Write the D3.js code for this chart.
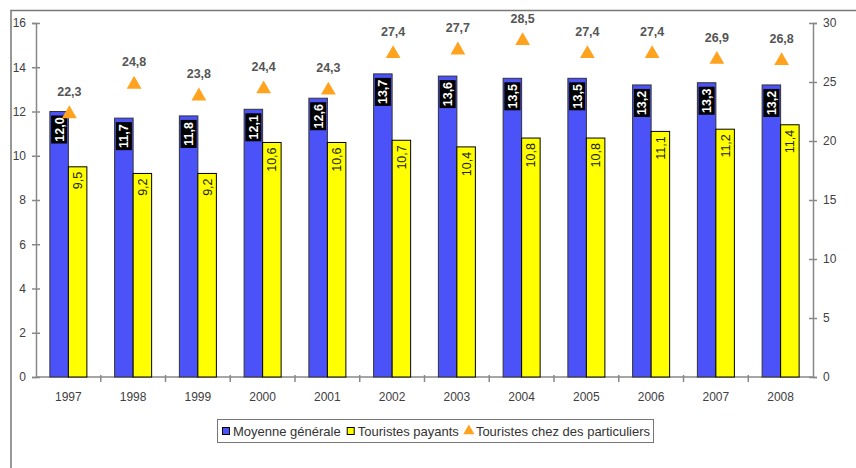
<!DOCTYPE html>
<html>
<head>
<meta charset="utf-8">
<script src="https://cdn.jsdelivr.net/npm/d3@7"></script>
<style>
  body { margin: 0; background: #fff; }
  svg { display: block; font-family: "Liberation Sans", Arial, sans-serif; }
</style>
</head>
<body>
<svg width="856" height="468"></svg>
<script>
// data
const years = ["1997","1998","1999","2000","2001","2002","2003","2004","2005","2006","2007","2008"];
const moyenne = [12.0, 11.7, 11.8, 12.1, 12.6, 13.7, 13.6, 13.5, 13.5, 13.2, 13.3, 13.2];
const payants = [9.5, 9.2, 9.2, 10.6, 10.6, 10.7, 10.4, 10.8, 10.8, 11.1, 11.2, 11.4];
const particuliers = [22.3, 24.8, 23.8, 24.4, 24.3, 27.4, 27.7, 28.5, 27.4, 27.4, 26.9, 26.8];
const leftTicks = [0, 2, 4, 6, 8, 10, 12, 14, 16];
const rightTicks = [0, 5, 10, 15, 20, 25, 30];

const fmt = v => v.toFixed(1).replace(".", ",");

const svg = d3.select("svg");
const pL = 36, pR = 813, pT = 23, pB = 377;

// outer frame
svg.append("path")
  .attr("d", "M11,470 V10.5 H858")
  .attr("fill", "none")
  .attr("stroke", "#777")
  .attr("stroke-width", 1.5);

const x = d3.scaleBand().domain(years).range([pL, pR]);
const yL = d3.scaleLinear().domain([0, 16]).range([pB, pT]);
const yR = d3.scaleLinear().domain([0, 30]).range([pB, pT]);

const bw = 18.5;
const off = x.bandwidth() / 2 - bw;

// axes
const axisCol = "#888", textCol = "#404040";

const gl = svg.append("g").attr("transform", `translate(${pL},0)`)
  .call(d3.axisLeft(yL).tickValues(leftTicks).tickSize(4).tickPadding(6));
gl.selectAll(".tick line").attr("x2", 4).attr("x1", -4);
const gr = svg.append("g").attr("transform", `translate(${pR},0)`)
  .call(d3.axisRight(yR).tickValues(rightTicks).tickSize(4).tickPadding(6));
gr.selectAll(".tick line").attr("x1", -4).attr("x2", 4);

[gl, gr].forEach(g => {
  g.select(".domain").attr("stroke", axisCol).attr("stroke-width", 1.5);
  g.selectAll(".tick line").attr("stroke", axisCol).attr("stroke-width", 1.5);
  g.selectAll(".tick text").attr("fill", textCol).attr("font-size", 12)
    .attr("font-family", "Liberation Sans, Arial, sans-serif");
});

// x axis
const gx = svg.append("g");
gx.append("line").attr("x1", pL).attr("x2", pR).attr("y1", pB).attr("y2", pB)
  .attr("stroke", axisCol).attr("stroke-width", 1.5);
gx.selectAll(".xt").data(years.slice(1)).enter().append("line")
  .attr("x1", d => x(d)).attr("x2", d => x(d))
  .attr("y1", pB - 2).attr("y2", pB + 5)
  .attr("stroke", axisCol).attr("stroke-width", 1.5);
gx.selectAll(".xl").data(years).enter().append("text")
  .attr("x", d => x(d) + x.bandwidth() / 2)
  .attr("y", pB + 24)
  .attr("text-anchor", "middle")
  .attr("font-size", 12)
  .attr("fill", textCol)
  .text(d => d);

// bars
const gBlue = svg.append("g");
gBlue.selectAll("rect").data(moyenne).enter().append("rect")
  .attr("x", (d, i) => x(years[i]) + off)
  .attr("y", d => yL(d))
  .attr("width", bw)
  .attr("height", d => pB - yL(d))
  .attr("fill", "#4a52f8")
  .attr("stroke", "#333")
  .attr("stroke-width", 1);

const gYel = svg.append("g");
gYel.selectAll("rect").data(payants).enter().append("rect")
  .attr("x", (d, i) => x(years[i]) + off + bw)
  .attr("y", d => yL(d))
  .attr("width", bw)
  .attr("height", d => pB - yL(d))
  .attr("fill", "#ffff00")
  .attr("stroke", "#000")
  .attr("stroke-width", 1);

// blue labels: white on black, rotated
moyenne.forEach((d, i) => {
  const cx = x(years[i]) + off + bw / 2;
  const ty = yL(d) + 4;
  const g = svg.append("g");
  g.append("rect")
    .attr("x", cx - 8).attr("y", ty)
    .attr("width", 16).attr("height", 28)
    .attr("fill", "#000");
  g.append("text")
    .attr("transform", `translate(${cx + 4.5},${ty + 14}) rotate(-90)`)
    .attr("text-anchor", "middle")
    .attr("font-size", 12.5)
    .attr("font-weight", "bold")
    .attr("fill", "#fff")
    .text(fmt(d));
});

// yellow labels
payants.forEach((d, i) => {
  const cx = x(years[i]) + off + bw * 1.5;
  const ty = yL(d) + 5;
  svg.append("text")
    .attr("transform", `translate(${cx + 4.5},${ty}) rotate(-90)`)
    .attr("text-anchor", "end")
    .attr("font-size", 12.5)
    .attr("fill", "#222")
    .text(fmt(d));
});

// triangles
const tri = d3.symbol().type(d3.symbolTriangle).size(95);
svg.selectAll(".tri").data(particuliers).enter().append("path")
  .attr("d", tri)
  .attr("transform", (d, i) => `translate(${x(years[i]) + x.bandwidth() / 2 + 1},${yR(d)})`)
  .attr("fill", "#ffa31f");
svg.selectAll(".tl").data(particuliers).enter().append("text")
  .attr("x", (d, i) => x(years[i]) + x.bandwidth() / 2 + 1)
  .attr("y", d => yR(d) - 18)
  .attr("text-anchor", "middle")
  .attr("font-size", 12.5)
  .attr("font-weight", "bold")
  .attr("fill", "#555")
  .text(fmt);

// legend
const lg = svg.append("g");
lg.append("rect").attr("x", 217.5).attr("y", 419.5).attr("width", 436).attr("height", 23)
  .attr("fill", "#fff").attr("stroke", "#777").attr("stroke-width", 1);
const items = [
  {label: "Moyenne générale", type: "sq", fill: "#4a52f8"},
  {label: "Touristes payants", type: "sq", fill: "#ffff00"},
  {label: "Touristes chez des particuliers", type: "tri", fill: "#ffa31f"}
];
let lx = 222;
items.forEach(it => {
  if (it.type === "sq") {
    lg.append("rect").attr("x", lx + 0.5).attr("y", 427.5).attr("width", 7).attr("height", 7)
      .attr("fill", it.fill).attr("stroke", "#000");
  } else {
    lg.append("path").attr("d", d3.symbol().type(d3.symbolTriangle).size(55))
      .attr("transform", `translate(${lx + 4},${431})`).attr("fill", it.fill);
  }
  const t = lg.append("text").attr("x", lx + 11).attr("y", 436)
    .attr("font-size", 13).attr("fill", "#333").text(it.label);
  lx += 11 + t.node().getComputedTextLength() + 6;
});
</script>
</body>
</html>
